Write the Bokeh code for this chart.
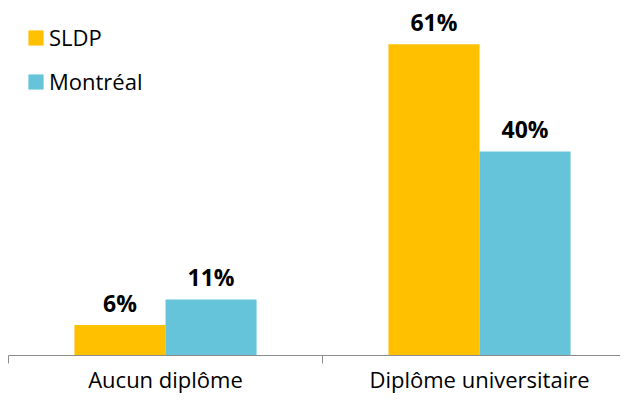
from bokeh.plotting import figure
from bokeh.models import (Range1d, LinearAxis, FixedTicker, ColumnDataSource, Legend, LegendItem)
from bokeh.transform import dodge
from bokeh.core.properties import value
from bokeh.embed import file_html
from bokeh.resources import INLINE

categories = ["Aucun diplôme", "Diplôme universitaire"]
series_names = ["SLDP", "Montréal"]
sldp_values = [6, 61]
montreal_values = [11, 40]
colors = ["#FFC000", "#65C4D9"]

FONT = "Open Sans"
GRAY = "#8C8C8C"

n = len(categories)
centers = [i + 0.5 for i in range(n)]

src = ColumnDataSource(data=dict(
    xc=centers,
    sldp=sldp_values,
    mtl=montreal_values,
    sldp_lbl=[f"{v}%" for v in sldp_values],
    mtl_lbl=[f"{v}%" for v in montreal_values],
))

p = figure(x_range=Range1d(-0.0255, 1.949), y_range=Range1d(0, 69.6),
           width=620, height=396, output_backend="svg", toolbar_location=None,
           x_axis_location=None, y_axis_location=None, min_border=0)
p.outline_line_color = None
p.grid.visible = False
p.background_fill_color = "white"
p.border_fill_color = "white"

bw = 0.29
off = 0.145
r1 = p.vbar(x=dodge("xc", -off), top="sldp", width=bw, source=src,
            fill_color=colors[0], line_color=None)
r2 = p.vbar(x=dodge("xc", off), top="mtl", width=bw, source=src,
            fill_color=colors[1], line_color=None)

for col, lbl, o in (("sldp", "sldp_lbl", -off), ("mtl", "mtl_lbl", off)):
    p.text(x=dodge("xc", o), y=col, text=lbl, source=src,
           text_align="center", text_baseline="alphabetic", y_offset=-22,
           text_font=value(FONT), text_font_style="bold", text_font_size="23px",
           text_color="#000000")

# axis line with tick marks at category boundaries
tick_axis = LinearAxis(ticker=FixedTicker(ticks=list(range(n + 1))), bounds=(0, n),
                       major_label_overrides={i: "" for i in range(n + 1)},
                       major_label_text_font_size="1px", major_label_standoff=0,
                       major_tick_in=0, major_tick_out=8,
                       minor_tick_line_color=None,
                       axis_line_color=GRAY, major_tick_line_color=GRAY)
# category labels at category centres
cat_axis = LinearAxis(ticker=FixedTicker(ticks=centers),
                      major_label_overrides={c: name for c, name in zip(centers, categories)},
                      major_tick_line_color=None, minor_tick_line_color=None,
                      major_tick_in=0, major_tick_out=0,
                      axis_line_color=None,
                      major_label_text_font=FONT, major_label_text_font_size="22px",
                      major_label_text_color="#000000", major_label_standoff=0)
p.add_layout(tick_axis, "below")
p.add_layout(cat_axis, "below")

legend = Legend(items=[LegendItem(label=series_names[0], renderers=[r1]),
                       LegendItem(label=series_names[1], renderers=[r2])],
                location=(26, 259), border_line_color=None, background_fill_alpha=0,
                glyph_width=19, glyph_height=19, label_height=19, spacing=14,
                label_text_font=FONT, label_text_font_size="22px", label_text_color="#000000",
                label_standoff=4, margin=0, padding=0)
p.add_layout(legend)

open("out.html", "w").write(file_html(p, INLINE))
